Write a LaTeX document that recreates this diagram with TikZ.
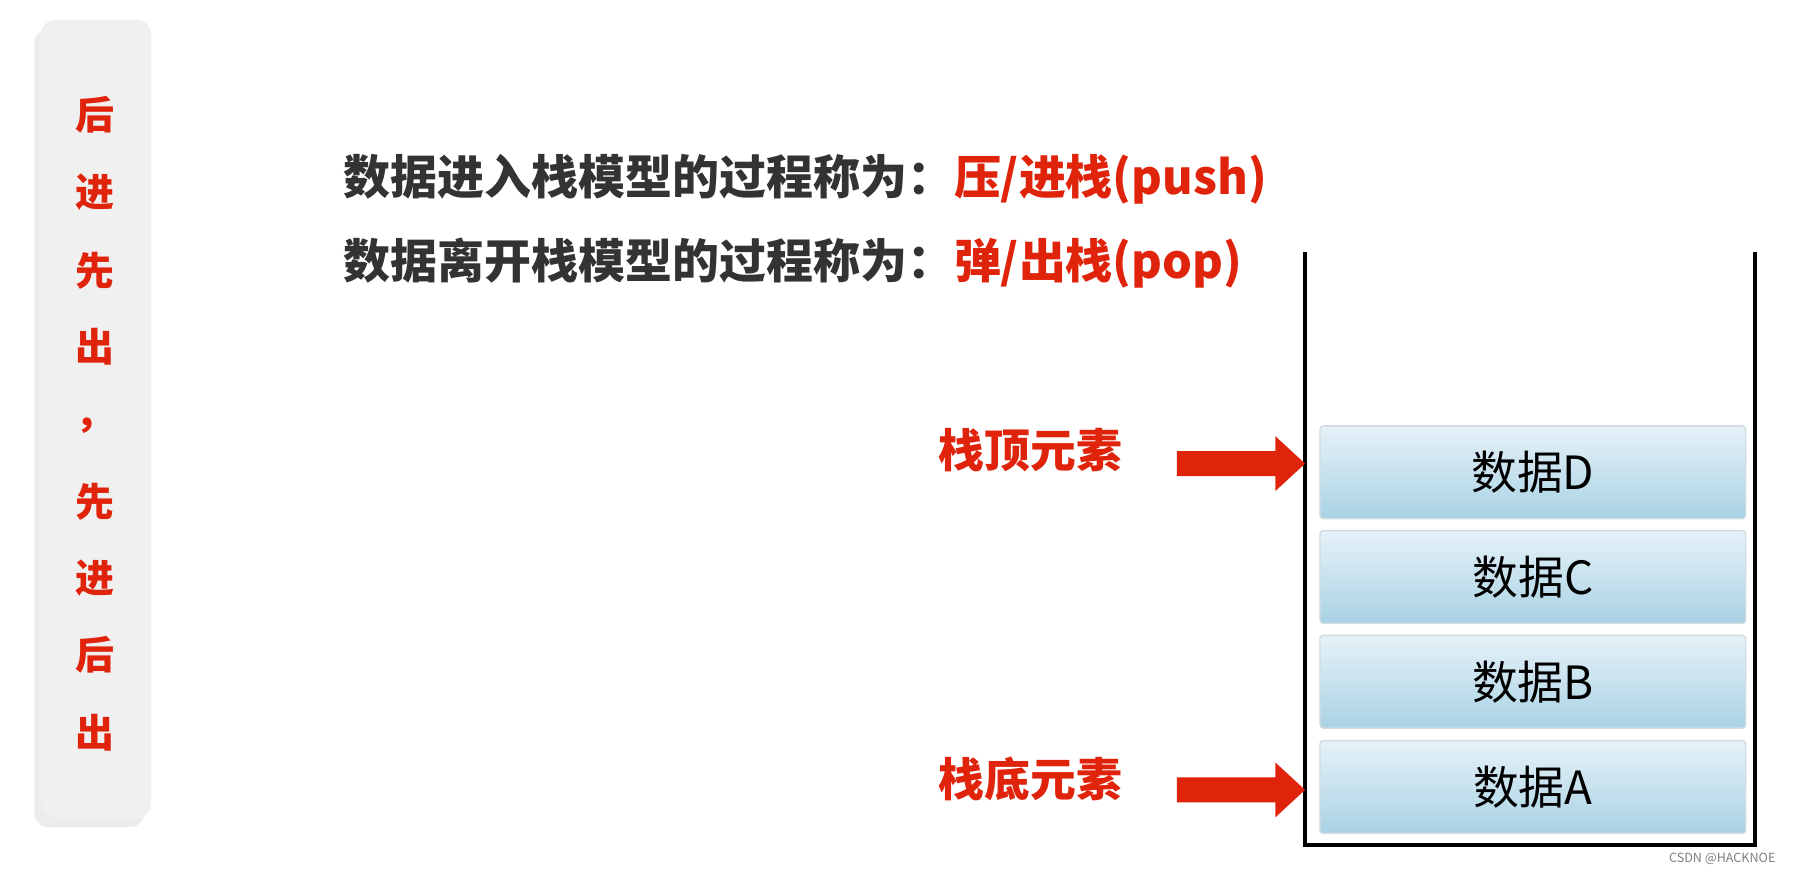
\documentclass[tikz,border=0pt]{standalone}
\usepackage{fontspec}
\setmainfont{Noto Sans CJK SC}
\usetikzlibrary{shadows,arrows.meta}
\definecolor{redt}{HTML}{E0240B}
\definecolor{darkt}{HTML}{333333}
\definecolor{boxtop}{HTML}{E6F2F8}
\definecolor{boxbot}{HTML}{A9D2E4}
\begin{document}
\begin{tikzpicture}[x=0.5pt,y=-0.5pt,
  side/.style={font=\fontsize{17}{17}\selectfont\bfseries,text=redt},
  title/.style={font=\fontsize{20.5}{22}\selectfont\bfseries,text=darkt,anchor=west,inner sep=0},
  databox/.style={draw=boxbot!80!black!40,line width=0.6pt,rounded corners=1.5pt,top color=boxtop,bottom color=boxbot,minimum width=186pt,minimum height=40.5pt,font=\fontsize{20}{20}\selectfont,inner sep=0},
  lbl/.style={font=\fontsize{20}{20}\selectfont\bfseries,text=redt},
  wall/.style={line width=1.5pt,black}]
\useasboundingbox (0,0) rectangle (1568,763);
\fill[white] (0,0) rectangle (1568,763);
% left panel
\node[draw=none,fill=gray!12,rounded corners=6pt,minimum width=48pt,minimum height=348.5pt,
  drop shadow={shadow xshift=-3pt,shadow yshift=-4pt,opacity=0.15},inner sep=0] (panel) at (84,366) {};
\foreach \t/\y [count=\i] in {后/100,进/168,先/237,出/303,，/372,先/438,进/505,后/572,出/640}
  \node[side] (s\i) at (83,\y) {\t};
% titles
\node[title] (t1) at (300,157) {数据进入栈模型的过程称为：\textcolor{redt}{压/进栈(push)}};
\node[title] (t2) at (300,230) {数据离开栈模型的过程称为：\textcolor{redt}{弹/出栈(pop)}};
% stack
\coordinate (tl) at (1140,220); \coordinate (bl) at (1140,738);
\coordinate (br) at (1533,738); \coordinate (tr) at (1533,220);
\draw[wall] (tl) -- (bl) -- (br) -- (tr);
\node[databox] (D) at (1339,412.5) {数据D};
\node[databox] (C) at (1339,504) {数据C};
\node[databox] (B) at (1339,595.5) {数据B};
\node[databox] (A) at (1339,687.5) {数据A};
% labels
\node[lbl] (top) at (900,393) {栈顶元素};
\node[lbl] (bot) at (900,680) {栈底元素};
\fill[redt] (1028,394) -- (1114,394) -- (1114,381) -- (1140,405) -- (1114,429) -- (1114,416) -- (1028,416) -- cycle;
\fill[redt] (1028,679) -- (1114,679) -- (1114,666) -- (1140,690) -- (1114,714) -- (1114,701) -- (1028,701) -- cycle;
\node[font=\fontsize{5.5}{6}\selectfont,text=gray,anchor=east] (wm) at (1558,750) {CSDN @HACKNOE};
\end{tikzpicture}
\end{document}
